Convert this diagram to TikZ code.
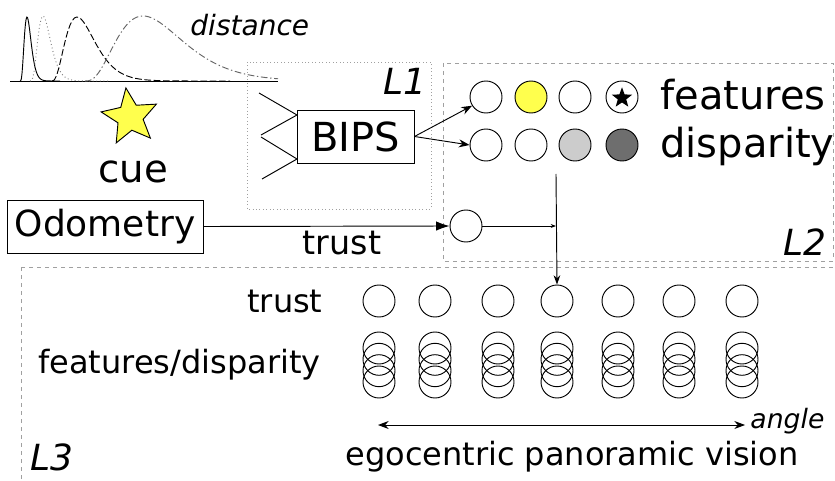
\documentclass[tikz,border=0pt]{standalone}
\usepackage{fontspec}
\setmainfont{DejaVu Sans}
\usetikzlibrary{shapes.geometric,arrows.meta}
\definecolor{cueyellow}{HTML}{FFFF4D}
\definecolor{lightdisp}{HTML}{CCCCCC}
\definecolor{darkdisp}{HTML}{6E6E6E}
\definecolor{layergray}{HTML}{A0A0A0}
\newcommand{\fsize}[1]{\fontsize{#1}{#1}\selectfont}
\begin{document}
\begin{tikzpicture}[
			x=0.75pt, y=-0.75pt,
			line width=0.7pt,
			every node/.style={inner sep=0},
			unit/.style={circle, draw, minimum size=24pt, inner sep=0},
			layer/.style={draw=layergray, line width=0.6pt},
			block/.style={draw, minimum height=39.75pt},
		]
		\clip (0,0) rectangle (835,481);
		% distance distributions
		\draw (10,81) -- (278,81);
		\draw plot[domain=20:60, samples=60] (\x, {81-64*pow(((\x-20)/7)*exp(1-(\x-20)/7),4)});
		\draw[gray, dotted] plot[domain=30:110, samples=60] (\x, {81-65*pow(((\x-30)/13)*exp(1-(\x-30)/13),4)});
		\draw[dash pattern=on 5pt off 2pt] plot[domain=52:230, samples=80] (\x, {81-64*pow(((\x-52)/25)*exp(1-(\x-52)/25),2.8)});
		\draw[gray!80!black, dash pattern=on 5pt off 2pt on 1pt off 2pt] plot[domain=85:278, samples=90] (\x, {81-65*pow(((\x-85)/58)*exp(1-(\x-85)/58),3)});
		\node[anchor=base west, font=\fsize{21}\itshape] (dist) at (190,36) {distance};
		\node[star, star points=5, star point ratio=2.2, minimum size=44pt, draw, fill=cueyellow, shape border rotate=8] (star) at (130,117) {};
		\node[anchor=base, font=\fsize{29}] (cue) at (133,183) {cue};
		% layer 1
		\draw[layer, dotted] (247,62) rectangle (431,209);
		\node[anchor=base west, font=\fsize{27}\itshape] (l1) at (383,95) {L1};
		\node[block, minimum width=87.75pt, font=\fsize{30}] (bips) at (355.5,136.5) {BIPS};
		\coordinate (in1) at (259,93);
		\coordinate (in2) at (261,135);
		\coordinate (in3) at (261,137);
		\coordinate (in4) at (262,179);
		\coordinate (bipsa) at (297,115);
		\coordinate (bipsb) at (297,159);
		\draw (in1) -- (bipsa) -- (in2);
		\draw (in3) -- (bipsb) -- (in4);
		% layer 2
		\draw[layer, dashed] (443,63) rectangle (833,261);
		\node[anchor=base west, font=\fsize{27}\itshape] (l2) at (783,255) {L2};
		\node[unit] (f1) at (486,97) {};
		\node[unit, fill=cueyellow] (f2) at (531,97) {};
		\node[unit] (f3) at (575,97) {};
		\node[unit] (f4) at (622,97) {};
		\node[star, star points=5, star point ratio=2.4, minimum size=16pt, fill=black] (fstar) at (622,98) {};
		\node[unit] (d1) at (486,145) {};
		\node[unit] (d2) at (531,145) {};
		\node[unit, fill=lightdisp] (d3) at (575,145) {};
		\node[unit, fill=darkdisp] (d4) at (622,145) {};
		\node[anchor=base west, font=\fsize{30}] (feat) at (660,110) {features};
		\node[anchor=base west, font=\fsize{30}] (disp) at (660,158) {disparity};
		\draw[-{Stealth[length=8pt, width=6pt]}] (bips.east) -- (f1.212);
		\draw[-{Stealth[length=8pt, width=6pt]}] (bips.east) -- (d1.west);
		% odometry
		\node[block, minimum width=147pt, font=\fsize{27}] (odo) at (105,226.5) {Odometry};
		\node[unit] (trustin) at (466,226) {};
		\draw[-{Latex[length=10pt, width=7pt]}] (odo.east) -- (trustin.west);
		\node[anchor=base, font=\fsize{25}] (trustlbl) at (342,254) {trust};
		\coordinate (join) at (556,226);
		\coordinate (down) at (556,174);
		\draw[-{Stealth[length=4pt, width=3pt]}] (trustin.east) -- (join);
		% layer 3
		\draw[layer, dashed] (21,267) rectangle (850,500);
		\node[anchor=base west, font=\fsize{27}\itshape] (l3) at (30,470) {L3};
		\node[anchor=base east, font=\fsize{24}] (trustrow) at (323,312) {trust};
		\node[anchor=base east, font=\fsize{24}] (fdrow) at (321,373) {features/disparity};
		\foreach \x [count=\i] in {379,435,498,557,618,679,742} {
			\node[unit] (t\i) at (\x,301) {};
			\foreach \y [count=\j] in {348,359.3,370.7,382}
				\node[unit] (s\i\j) at (\x,\y) {};
		}
		\draw[-{Stealth[length=7pt, width=5pt]}] (down) -- (t4.north);
		\coordinate (angl) at (378,425);
		\coordinate (angr) at (745,425);
		\draw[{Stealth[length=8pt, width=6pt]}-{Stealth[length=8pt, width=6pt]}] (angl) -- (angr);
		\node[anchor=base west, font=\fsize{20}\itshape] (angle) at (750,428) {angle};
		\node[anchor=base west, font=\fsize{24}] (ego) at (345,465) {egocentric panoramic vision};
		\end{tikzpicture}
\end{document}
